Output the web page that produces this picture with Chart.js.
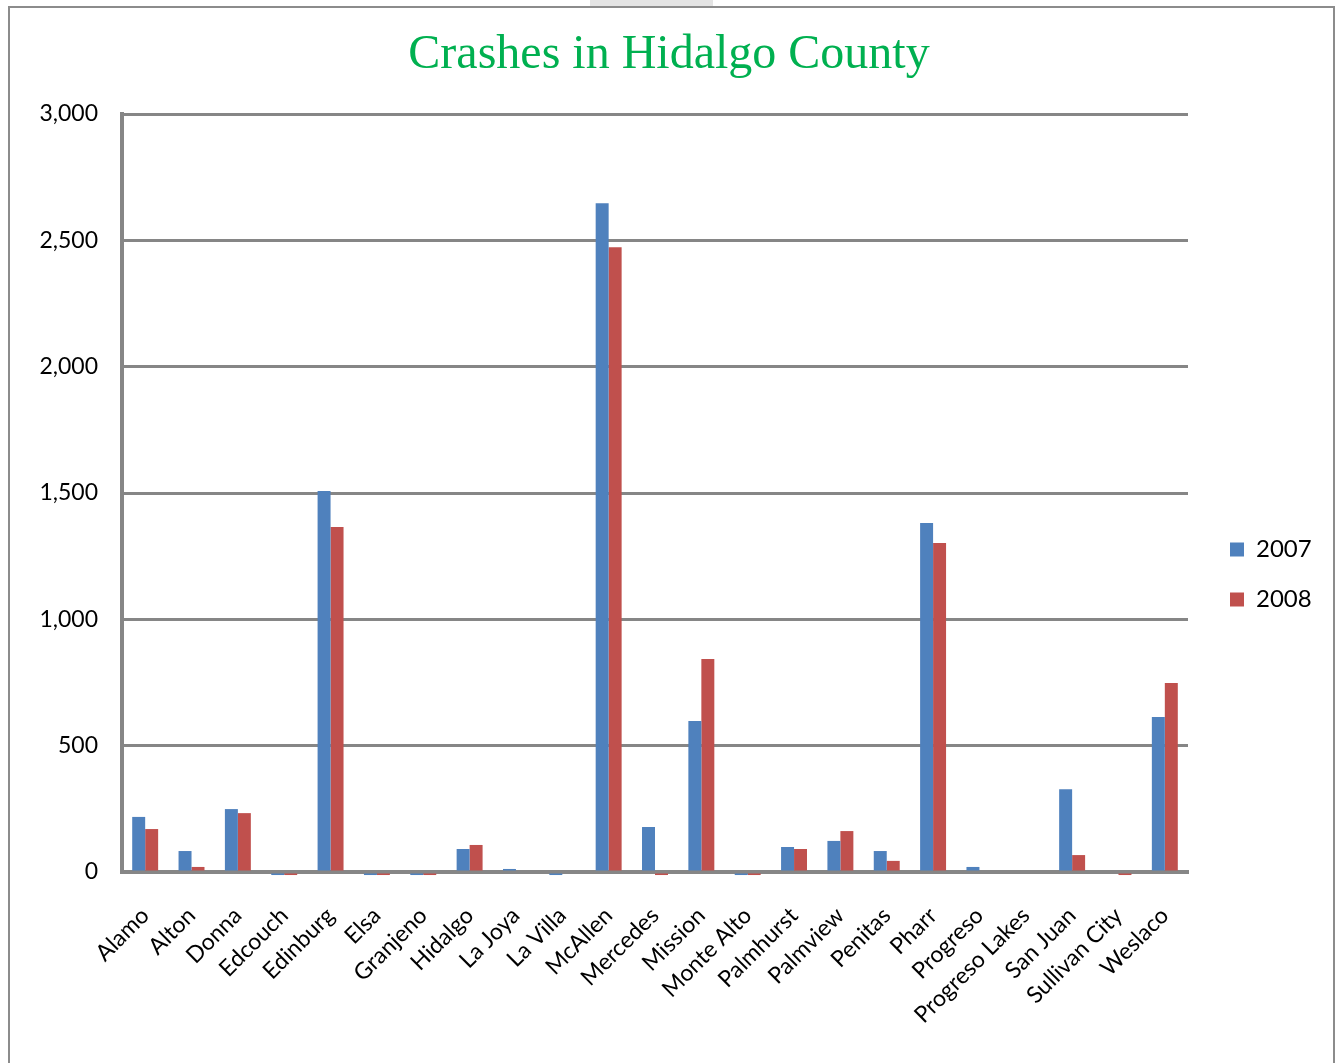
<!DOCTYPE html>
<html>
<head>
<meta charset="utf-8">
<script src="https://cdn.jsdelivr.net/npm/chart.js@4.4.1/dist/chart.umd.min.js"></script>
<style>
  body { margin: 0; background: #fff; }
  #frame { position: absolute; left: 8px; top: 6px; width: 1323px; height: 1070px; border: 2px solid #8c8c8c; }
  #tab { position: absolute; left: 590px; top: 0; width: 123px; height: 6px; background: #e4e4e4; }
  #wrap { position: absolute; left: 0; top: 0; width: 1338px; height: 1063px; }
</style>
</head>
<body>
<div id="tab"></div>
<div id="frame"></div>
<div id="wrap"><canvas id="crashes" width="1338" height="1063"></canvas></div>
<script>
var cities = ['Alamo', 'Alton', 'Donna', 'Edcouch', 'Edinburg', 'Elsa', 'Granjeno', 'Hidalgo',
    'La Joya', 'La Villa', 'McAllen', 'Mercedes', 'Mission', 'Monte Alto', 'Palmhurst', 'Palmview',
    'Penitas', 'Pharr', 'Progreso', 'Progreso Lakes', 'San Juan', 'Sullivan City', 'Weslaco'];

var crashes2007 = [218, 83, 249, -12, 1508, -12, -12, 91, 12, -12, 2647, 178, 598, -12, 99, 123,
    83, 1381, 20, 0, 328, 0, 613];
var crashes2008 = [170, 20, 233, -12, 1365, -12, -12, 107, 0, 0, 2473, -12, 843, -12, 91, 162,
    44, 1302, 0, 0, 67, -12, 748];

var yTicks = [0, 500, 1000, 1500, 2000, 2500, 3000];

// fix legend width so the plot area ends where the reference does,
// then nudge the legend box to where the reference has it
var legendPlace = {
    id: 'legendPlace',
    afterInit: function (chart) {
        var lg = chart.legend;
        var fit = lg.fit.bind(lg);
        lg.fit = function () {
            fit();
            this.width = 150;
        };
    },
    afterLayout: function (chart) {
        var lg = chart.legend;
        lg.left += 16; lg.right += 16;
        lg.top += 33; lg.bottom += 33;
    }
};

var ctx = document.getElementById('crashes').getContext('2d');
var myChart = new Chart(ctx, {
    type: 'bar',
    data: {
        labels: cities,
        datasets: [{
            label: '2007',
            data: crashes2007,
            backgroundColor: '#4F81BD',
            clip: false
        }, {
            label: '2008',
            data: crashes2008,
            backgroundColor: '#C0504D',
            clip: false
        }]
    },
    options: {
        responsive: false,
        animation: false,
        layout: { padding: { top: 20, left: 0, right: 0, bottom: 0 } },
        datasets: { bar: { barPercentage: 1, categoryPercentage: 0.56 } },
        plugins: {
            title: {
                display: true,
                text: 'Crashes in Hidalgo County',
                color: '#00B050',
                font: { family: 'Liberation Serif', size: 48, weight: 'normal' },
                padding: { top: 7, bottom: 29.4 }
            },
            legend: {
                position: 'right',
                align: 'center',
                labels: {
                    boxWidth: 14,
                    boxHeight: 14,
                    padding: 26,
                    color: '#000',
                    font: { family: 'Lato', size: 24 }
                }
            },
            tooltip: { enabled: false }
        },
        scales: {
            x: {
                z: 1,
                grid: { display: false, drawTicks: false },
                border: { color: '#868686', width: 4 },
                ticks: {
                    color: '#000',
                    font: { family: 'Lato', size: 23 },
                    minRotation: 45,
                    maxRotation: 45,
                    autoSkip: false,
                    padding: 30
                },
                afterFit: function (scale) { scale.height = 191; }
            },
            y: {
                min: 0,
                max: 3000,
                afterBuildTicks: function (scale) {
                    scale.ticks = yTicks.map(function (v) { return { value: v }; });
                },
                grid: { color: '#868686', lineWidth: 3, drawTicks: false },
                border: { color: '#868686', width: 4 },
                ticks: {
                    color: '#000',
                    font: { family: 'Lato', size: 23 },
                    padding: 24
                },
                afterFit: function (scale) { scale.width = 122; }
            }
        }
    },
    plugins: [legendPlace]
});
</script>
</body>
</html>
